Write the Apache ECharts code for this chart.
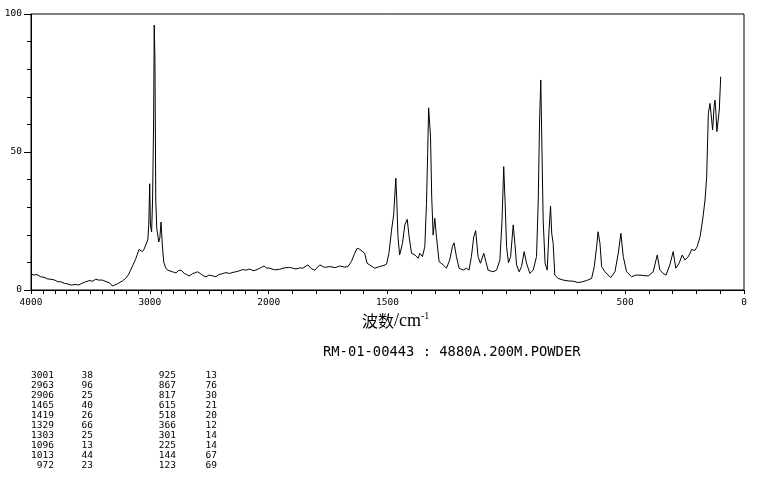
<!DOCTYPE html>
<html><head><meta charset="utf-8">
<script src="https://cdn.jsdelivr.net/npm/echarts@6/dist/echarts.min.js"></script>
<style>html,body{margin:0;padding:0;background:#fff}#c{width:759px;height:481px}</style>
</head><body><div id="c"></div>
<script>
// ---- spectrum (Raman shift in cm-1, relative intensity) ----
const waveNumbers = [4000,3975,3950,3918,3890,3860,3834,3800,3775,3750,3720,3690,3665,3651,3620,3600,3582,3550,3511,3480,3456,3430,3400,3385,3360,3340,3315,3295,3275,3259,3230,3204,3180,3162,3140,3120,3105,3091,3077,3063,3050,3036,3017,3009,3001,2995,2985,2977,2968,2963,2957,2950,2942,2925,2916,2906,2895,2883,2866,2851,2837,2809,2780,2760,2738,2710,2690,2669,2640,2620,2599,2570,2550,2528,2500,2470,2444,2420,2390,2360,2330,2300,2276,2250,2220,2192,2160,2130,2108,2080,2060,2039,2020,1996,1975,1954,1935,1912,1885,1870,1856,1835,1820,1806,1785,1765,1743,1720,1701,1680,1666,1652,1638,1628,1618,1610,1596,1586,1568,1554,1533,1515,1504,1494,1483,1474,1465,1461,1456,1449,1437,1427,1417,1409,1399,1385,1371,1364,1353,1343,1336,1331,1327,1319,1314,1308,1301,1294,1283,1266,1252,1238,1227,1220,1210,1199,1182,1168,1157,1147,1137,1129,1119,1109,1095,1086,1077,1056,1041,1027,1018,1011,1005,999,991,982,971,964,957,946,936,925,915,901,887,873,866,860,855,851,845,837,828,821,814,809,803,796,782,761,740,720,698,680,663,641,630,620,614,606,599,585,561,543,529,518,508,494,473,455,438,420,403,382,365,354,340,328,312,298,287,273,260,249,237,227,220,207,197,185,174,164,157,150,143,136,132,126,122,118,114,108,104,98];
const intensities = [5.8,5.4,5.6,4.8,4.6,4.0,3.9,3.6,3.0,3.0,2.4,2.2,1.8,1.45,2.0,1.8,2.2,2.8,3.4,3.2,3.9,3.6,3.6,3.4,2.9,2.6,1.45,1.8,2.2,2.4,3.3,4.2,5.5,7.2,9.2,11.1,13.0,14.7,14.5,13.9,14.7,14.8,18.1,23.6,38.5,23.6,21.0,32.6,61.6,96,83.3,32.6,22.5,17.4,18.8,24.6,16.3,10.1,8.0,7.2,6.9,6.6,6.2,7.0,7.2,6.0,5.6,5.1,5.9,6.2,6.6,5.8,5.2,4.8,5.4,5.1,4.8,5.6,5.9,6.3,6.0,6.4,6.6,6.9,7.4,7.2,7.6,7.0,7.2,7.8,8.2,8.7,8.0,7.9,7.3,7.5,8.0,8.2,7.6,8.0,7.9,9.1,7.7,7.2,9.1,8.2,8.5,8.1,8.7,8.3,8.5,10.3,13.3,15.1,14.8,14.3,13.3,9.7,8.7,7.9,8.5,8.9,9.4,13.3,21.7,27.2,40.5,32.6,19.3,12.7,16.9,23.6,25.6,19.3,13.3,12.7,11.5,13.3,12.1,15.7,31.4,49.5,66,55.5,33.8,19.9,26.0,19.3,10.3,9.1,7.9,10.9,15.7,17.1,12.1,7.9,7.2,7.9,7.2,12.1,19.3,21.5,12.1,9.7,13.3,10.3,7.2,6.6,7.2,10.9,25.4,44.7,31.4,15.7,9.9,12.1,23.6,16.9,9.1,6.6,8.5,13.9,9.7,6.0,7.2,12.1,31.4,61.6,76.1,55.5,25.4,9.7,7.2,20.5,30.4,20.5,16.9,5.4,4.2,3.6,3.3,3.2,2.7,3.0,3.4,4.2,8.5,15.7,21.1,16.9,8.5,6.6,4.5,6.6,13.3,20.5,12.1,6.6,4.8,5.4,5.4,5.2,5.1,6.6,12.7,7.2,6.0,5.4,9.1,13.9,7.9,9.7,12.7,10.9,11.8,13.3,14.7,14.3,15.7,19.3,25.4,32.6,41,64,67.6,61.6,58,66.4,68.8,64,57.4,58,65.2,77.3];

// ---- axes ----
const xTickLabels = [4000, 3000, 2000, 1500, 500, 0];
const yTickLabels = [0, 50, 100];

// ---- peak table ----
const peakWaveA = [3001, 2963, 2906, 1465, 1419, 1329, 1303, 1096, 1013, 972];
const peakIntA  = [38, 96, 25, 40, 26, 66, 25, 13, 44, 23];
const peakWaveB = [925, 867, 817, 615, 518, 366, 301, 225, 144, 123];
const peakIntB  = [13, 76, 30, 21, 20, 12, 14, 14, 67, 69];

const titleText = 'RM-01-00443 : 4880A.200M.POWDER';

// axis transform: scale above 2000 cm-1 is compressed by half
function toU(w){ return w <= 2000 ? w : 2000 + (w - 2000) / 2; }
function toW(u){ return u <= 2000 ? u : 2000 + (u - 2000) * 2; }

const tickU = [];
for (let w = 4000; w >= 0; w -= 100) tickU.push(toU(w));
const labelU = xTickLabels.map(toU);

const mono = 'DejaVu Sans Mono';
const graphics = [];
const rowTop = 376, rowStep = 10;
const cols = [[peakWaveA, 54], [peakIntA, 93], [peakWaveB, 176], [peakIntB, 217]];
cols.forEach(([arr, right]) => {
  arr.forEach((v, i) => {
    graphics.push({type: 'text', x: right, y: rowTop + i * rowStep,
      style: {text: String(v), fill: '#000', font: '9.5px ' + mono, align: 'right', verticalAlign: 'middle'}});
  });
});
graphics.push({type: 'text', x: 323, y: 352,
  style: {text: titleText, fill: '#000', font: '13.8px ' + mono, align: 'left', verticalAlign: 'middle'}});
graphics.push({type: 'text', x: 362, y: 321,
  style: {text: '{a|波数}{b|/cm}{c|-1}', verticalAlign: 'middle', align: 'left',
    rich: {
      a: {fontFamily: 'Noto Sans CJK SC', fontSize: 16, fill: '#000', color: '#000', lineHeight: 20},
      b: {fontFamily: 'Liberation Serif', fontSize: 18, fill: '#000', color: '#000', lineHeight: 20},
      c: {fontFamily: 'Liberation Serif', fontSize: 10, fill: '#000', color: '#000', verticalAlign: 'top', lineHeight: 10}
    }}});

const chart = echarts.init(document.getElementById('c'), null, {renderer: 'canvas'});
chart.setOption({
  animation: false,
  backgroundColor: '#fff',
  grid: {left: 31, right: 15, top: 14, bottom: 191, show: true, borderColor: '#000', borderWidth: 1, backgroundColor: 'transparent'},
  xAxis: {
    type: 'value', min: 0, max: 3000, inverse: true, position: 'bottom',
    axisLine: {show: true, lineStyle: {color: '#000', width: 1}},
    axisTick: {show: true, length: 4, lineStyle: {color: '#000'}, customValues: tickU},
    axisLabel: {show: true, customValues: labelU, margin: 8, color: '#000', fontFamily: mono, fontSize: 9.5,
      showMinLabel: true, showMaxLabel: true, formatter: u => String(Math.round(toW(u)))},
    splitLine: {show: false}
  },
  yAxis: [{
    type: 'value', min: 0, max: 100, interval: 10, position: 'left', offset: 0,
    axisLine: {show: true, onZero: false, lineStyle: {color: '#000', width: 1}},
    axisTick: {show: true, length: 4, lineStyle: {color: '#000'}},
    axisLabel: {show: true, margin: 9, color: '#000', fontFamily: mono, fontSize: 9.5,
      formatter: v => yTickLabels.indexOf(v) >= 0 ? String(v) : ''},
    splitLine: {show: false}
  }, {
    type: 'value', min: 0, max: 100, interval: 50, position: 'left', offset: 0,
    axisLine: {show: false, onZero: false},
    axisTick: {show: true, length: 7, lineStyle: {color: '#000'}},
    axisLabel: {show: false},
    splitLine: {show: false}
  }],
  series: [{
    type: 'line', yAxisIndex: 0, showSymbol: false, symbol: 'none', silent: true,
    lineStyle: {color: '#000', width: 1},
    data: waveNumbers.map((w, i) => [toU(w), intensities[i]])
  }],
  graphic: graphics
});
</script>
</body></html>
